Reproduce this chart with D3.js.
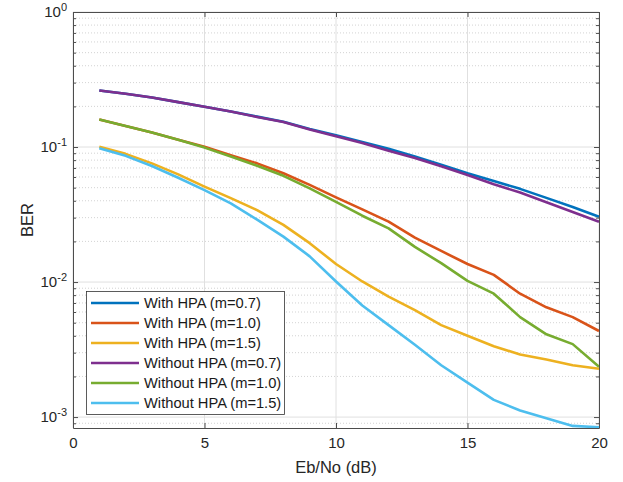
<!DOCTYPE html>
<html>
<head>
  <script src="https://d3js.org/d3.v7.min.js"></script>
  <style>
    html, body {
      margin: 0px;
      padding: 0px;
      background: #fff;
      font-family: "Liberation Sans", Arial, Helvetica, sans-serif;
    }
    .axis text {
      font-size: 15px;
      fill: #262626;
      font-family: "Liberation Sans", Arial, sans-serif;
    }
    .axis path, .axis line {
      stroke: #4d4d4d;
    }
    .axisLabel {
      font-size: 16.5px;
      fill: #262626;
    }
    .legend text {
      font-size: 14.7px;
      fill: #1a1a1a;
    }
  </style>
</head>
<body>
  <div id="chart"></div>
  <script>
    // chart size & margins (plot box)
    const width = 623;
    const height = 482;
    const margin = {top: 12, left: 73, right: 24, bottom: 54};

    // x values: Eb/No in dB
    const ebno = [1,2,3,4,5,6,7,8,9,10,11,12,13,14,15,16,17,18,19,20];

    // BER values
    const hpa07 = [0.262,0.248,0.233,0.215,0.199,0.183,0.168,0.154,0.136,0.122,
                   0.109,0.097,0.085,0.074,0.064,0.056,0.049,0.042,0.036,0.0305];
    const hpa10 = [0.160,0.143,0.128,0.113,0.1005,0.087,0.0757,0.064,0.0524,0.0424,
                   0.0345,0.028,0.0213,0.0170,0.0136,0.0113,0.0082,0.0065,0.0055,0.00434];
    const hpa15 = [0.1005,0.089,0.0757,0.0627,0.0509,0.0418,0.0341,0.0265,0.0194,0.0136,
                   0.0101,0.0078,0.0062,0.0048,0.0040,0.00335,0.00291,0.00267,0.00242,0.00228];
    const nohpa07 = [0.262,0.248,0.233,0.215,0.199,0.183,0.167,0.153,0.135,0.120,
                     0.107,0.094,0.083,0.072,0.062,0.053,0.046,0.039,0.033,0.028];
    const nohpa10 = [0.160,0.143,0.128,0.113,0.099,0.085,0.0726,0.0612,0.0494,0.0393,
                     0.031,0.025,0.0182,0.0138,0.0102,0.0082,0.0055,0.0041,0.00347,0.00236];
    const nohpa15 = [0.098,0.086,0.0723,0.0592,0.048,0.0383,0.029,0.0217,0.0155,0.0101,
                     0.0067,0.0048,0.00343,0.00242,0.00180,0.00134,0.00112,0.00098,0.00086,0.00084];

    const seriesNames = ["With HPA (m=0.7)","With HPA (m=1.0)","With HPA (m=1.5)",
                         "Without HPA (m=0.7)","Without HPA (m=1.0)","Without HPA (m=1.5)"];
    const seriesValues = [hpa07, hpa10, hpa15, nohpa07, nohpa10, nohpa15];
    const colors = ["#0072BD","#D95319","#EDB120","#7E2F8E","#77AC30","#4DBEEE"];

    const xTicks = [0,5,10,15,20];
    const yTicks = [1,0.1,0.01,0.001];

    const svg = d3.select("#chart")
      .append("svg")
      .attr("width", width)
      .attr("height", height);

    const x0 = margin.left, x1 = width - margin.right;
    const y0 = height - margin.bottom, y1 = margin.top;

    const xScale = d3.scaleLinear()
      .domain([0,20])
      .range([x0, x1]);

    const yScale = d3.scaleLog()
      .domain([0.00083, 1])
      .range([y0, y1]);

    // minor y values (2..9 of each decade) inside the domain
    const yMinor = [];
    [0.0001,0.001,0.01,0.1].forEach(function(dec) {
      for (let k = 2; k <= 9; k++) {
        const v = dec * k;
        if (v >= yScale.domain()[0] && v < 1) yMinor.push(v);
      }
    });

    /*
    GRID
    */
    const grid = svg.append("g");
    grid.selectAll(".ymin")
      .data(yMinor)
      .enter().append("line")
        .attr("x1", x0).attr("x2", x1)
        .attr("y1", d => yScale(d)).attr("y2", d => yScale(d))
        .attr("stroke", "#c8c8c8")
        .attr("stroke-width", 0.8)
        .attr("stroke-dasharray", "1,2");
    grid.selectAll(".ymaj")
      .data(yTicks)
      .enter().append("line")
        .attr("x1", x0).attr("x2", x1)
        .attr("y1", d => yScale(d)).attr("y2", d => yScale(d))
        .attr("stroke", "#e0e0e0")
        .attr("stroke-width", 1);
    grid.selectAll(".xmaj")
      .data(xTicks)
      .enter().append("line")
        .attr("x1", d => xScale(d)).attr("x2", d => xScale(d))
        .attr("y1", y0).attr("y2", y1)
        .attr("stroke", "#e0e0e0")
        .attr("stroke-width", 1);

    /*
    LINES
    */
    const line = d3.line()
      .x((d, i) => xScale(ebno[i]))
      .y(d => yScale(d));

    svg.append("g")
      .selectAll("path")
      .data(seriesValues)
      .enter().append("path")
        .attr("d", d => line(d))
        .attr("fill", "none")
        .attr("stroke", (d, i) => colors[i])
        .attr("stroke-width", 2.6)
        .attr("stroke-linejoin", "round");

    /*
    AXES (ticks point inward, box on)
    */
    svg.append("g")
      .attr("class", "axis")
      .attr("transform", `translate(0,${y0})`)
      .call(d3.axisBottom(xScale).tickValues(xTicks).tickSizeInner(-5).tickSizeOuter(0).tickPadding(9));

    svg.append("g")
      .attr("class", "axis")
      .attr("transform", `translate(0,${y1})`)
      .call(d3.axisTop(xScale).tickValues(xTicks).tickSizeInner(-5).tickSizeOuter(0).tickFormat(""));

    const yAxis = svg.append("g")
      .attr("class", "axis")
      .attr("transform", `translate(${x0},0)`)
      .call(d3.axisLeft(yScale).tickValues(yTicks).tickSizeInner(-5).tickSizeOuter(0).tickPadding(6));

    yAxis.selectAll(".tick text").each(function(d) {
      const t = d3.select(this);
      t.text(null);
      t.append("tspan").text("10");
      t.append("tspan")
        .attr("dy", "-0.55em")
        .attr("font-size", "11px")
        .text(Math.round(Math.log10(d)));
    });

    svg.append("g")
      .attr("class", "axis")
      .attr("transform", `translate(${x1},0)`)
      .call(d3.axisRight(yScale).tickValues(yTicks).tickSizeInner(-5).tickSizeOuter(0).tickFormat(""));

    svg.append("g")
      .attr("class", "axis")
      .attr("transform", `translate(${x0},0)`)
      .call(d3.axisLeft(yScale).tickValues(yMinor).tickSizeInner(-3).tickSizeOuter(0).tickFormat(""))
      .select(".domain").remove();

    svg.append("g")
      .attr("class", "axis")
      .attr("transform", `translate(${x1},0)`)
      .call(d3.axisRight(yScale).tickValues(yMinor).tickSizeInner(-3).tickSizeOuter(0).tickFormat(""))
      .select(".domain").remove();

    /*
    AXIS LABELS
    */
    svg.append("text")
      .attr("class", "axisLabel")
      .attr("x", (x0 + x1) / 2)
      .attr("y", 473)
      .attr("text-anchor", "middle")
      .text("Eb/No (dB)");

    svg.append("text")
      .attr("class", "axisLabel")
      .attr("x", -(y0 + y1) / 2)
      .attr("y", 33)
      .attr("text-anchor", "middle")
      .attr("transform", "rotate(-90)")
      .text("BER");

    /*
    LEGEND
    */
    const legend = svg.append("g").attr("class", "legend");
    legend.append("rect")
      .attr("x", 86.5).attr("y", 291.5)
      .attr("width", 198).attr("height", 123)
      .attr("fill", "#fff")
      .attr("stroke", "#333")
      .attr("stroke-width", 0.8);

    const items = legend.selectAll(".item")
      .data(seriesNames)
      .enter().append("g")
        .attr("transform", (d, i) => `translate(0,${303 + i * 20})`);
    items.append("line")
      .attr("x1", 91).attr("x2", 139)
      .attr("y1", 0).attr("y2", 0)
      .attr("stroke", (d, i) => colors[i])
      .attr("stroke-width", 2.6);
    items.append("text")
      .attr("x", 144)
      .attr("y", 5)
      .text(d => d);
  </script>
</body>
</html>
